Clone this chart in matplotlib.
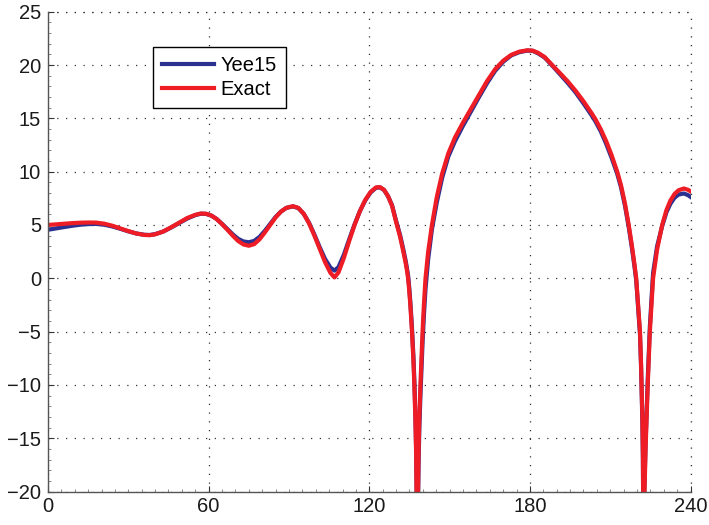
import matplotlib
matplotlib.use("Agg")
import matplotlib.pyplot as plt
from matplotlib.ticker import MultipleLocator

plt.rcParams['font.family'] = ['Liberation Sans', 'DejaVu Sans']

# angle samples (shared by both series)
theta = [0, 3, 6, 9, 12, 15, 18, 21, 24, 27, 30, 33, 36, 38, 40, 43, 46, 49, 52, 55, 57, 59, 61, 63,
         65, 67, 69, 71, 73, 75, 77, 79, 81, 83, 85, 87, 89, 91.5, 93.5, 95.5, 97.5, 99.5, 101.5,
         103.5, 105.5, 107, 108.5, 110.5, 112.5, 114.5, 116.5, 118.5, 120.5, 122.5, 124, 125.5, 127,
         128.5, 130, 131.5, 132.5, 133.5, 134.0, 134.5, 134.9, 135.3, 135.9, 136.5, 136.8, 137.2,
         137.5, 137.75, 137.9, 138.1, 138.4, 138.7, 139.1, 139.5, 139.9, 140.4, 141.0, 142.0, 143.4,
         145.2, 147.2, 149.5, 152, 155, 158, 161, 164, 167, 170, 173, 176, 179, 181, 183, 185.5, 188.3,
         191, 194, 197, 200, 203, 204.5, 206.5, 208.5, 210.5, 212.6, 214, 215.5, 216.9, 218, 219,
         219.7, 220.4, 221.1, 221.5, 221.7, 222.0, 222.2, 222.35, 222.45, 222.6, 223.2, 223.6, 224.0,
         224.4, 224.8, 225.4, 226.0, 227.5, 229.4, 231, 232.5, 234, 235.5, 237.5, 239, 240]

# Exact (red)
exact_y = [5.00, 5.06, 5.12, 5.17, 5.21, 5.23, 5.22, 5.12, 4.93, 4.68, 4.42, 4.20, 4.06, 4.04, 4.12,
           4.38, 4.78, 5.22, 5.65, 5.95, 6.07, 6.05, 5.88, 5.55, 5.08, 4.55, 4.00, 3.50, 3.17, 3.05,
           3.20, 3.65, 4.30, 5.00, 5.70, 6.25, 6.60, 6.76, 6.60, 6.05, 5.15, 4.00, 2.75, 1.50, 0.50,
           0.08, 0.55, 1.90, 3.50, 5.00, 6.30, 7.35, 8.10, 8.52, 8.55, 8.30, 7.70, 6.80, 5.30, 3.90,
           2.75, 1.55, 0.85, 0.00, -1.1, -2.4, -4.8, -7.8, -9.8, -13, -16.5, -22, -30, -22, -16.5,
           -13, -10, -7.5, -5, -2.5, 0, 2.5, 5, 7.6, 9.8, 11.7, 13.2, 14.6, 15.9, 17.2, 18.5, 19.6,
           20.4, 20.95, 21.25, 21.38, 21.35, 21.15, 20.75, 20.0, 19.3, 18.5, 17.6, 16.6, 15.5, 14.9,
           13.95, 12.85, 11.55, 10.0, 8.75, 7.0, 5.0, 3.2, 1.4, 0, -2.5, -5, -8, -10, -13, -16.5,
           -22, -30, -22, -16, -13, -10, -7.5, -5, -2.5, 0, 2.7, 5.0, 6.4, 7.3, 7.9, 8.25, 8.42,
           8.3, 8.15]

# Yee15 (blue)
yee_y = [4.55, 4.68, 4.80, 4.92, 5.02, 5.08, 5.10, 5.02, 4.86, 4.64, 4.40, 4.20, 4.08, 4.06, 4.14,
         4.38, 4.76, 5.18, 5.60, 5.92, 6.05, 6.04, 5.88, 5.56, 5.10, 4.62, 4.12, 3.70, 3.45, 3.38,
         3.50, 3.88, 4.45, 5.10, 5.75, 6.25, 6.60, 6.74, 6.58, 6.05, 5.20, 4.10, 2.90, 1.80, 1.00,
         0.72, 1.05, 2.20, 3.65, 5.05, 6.30, 7.30, 8.05, 8.48, 8.52, 8.28, 7.70, 6.85, 5.40, 4.05,
         2.95, 1.75, 1.05, 0.25, -0.8, -2.1, -4.4, -7.4, -9.4, -12.5, -16, -21, -30, -23, -17.5,
         -14, -11, -8.5, -6, -3.5, -1, 1.8, 4.6, 7.1, 9.4, 11.4, 12.85, 14.3, 15.65, 17.0, 18.3,
         19.45, 20.3, 20.9, 21.2, 21.35, 21.33, 21.1, 20.7, 19.95, 19.2, 18.35, 17.45, 16.4, 15.3,
         14.7, 13.75, 12.6, 11.3, 9.8, 8.55, 6.8, 4.8, 3.0, 1.2, -0.2, -2.7, -5.2, -8.2, -10.3,
         -13.5, -17, -23, -30, -21, -15.5, -12.5, -9.5, -7, -4.5, -2, 0.5, 3.0, 4.9, 6.2, 7.0,
         7.55, 7.85, 7.95, 7.8, 7.63]

x_ticks = [0, 60, 120, 180, 240]
y_ticks = [-20, -15, -10, -5, 0, 5, 10, 15, 20, 25]

fig = plt.figure(figsize=(7.09, 5.25), dpi=100)
ax = fig.add_axes([0.0677, 0.0638, 0.9063, 0.9139])

ax.plot(theta, yee_y, color='#2B3190', lw=3.0, label='Yee15', solid_joinstyle='round')
ax.plot(theta, exact_y, color='#EE1C25', lw=3.0, label='Exact', solid_joinstyle='round')

ax.set_xlim(0, 240)
ax.set_ylim(-20, 25)
ax.set_xticks(x_ticks)
ax.set_yticks(y_ticks)
ax.xaxis.set_minor_locator(MultipleLocator(5))
ax.yaxis.set_minor_locator(MultipleLocator(1))
ax.tick_params(which='major', direction='in', length=4, width=0.8, color='#333333',
               labelsize=14.5, labelcolor='#1a1a1a')
ax.tick_params(axis='x', which='major', pad=4)
ax.tick_params(axis='y', which='major', pad=5)
ax.tick_params(which='minor', direction='in', length=2, width=0.6, color='#777777')
ax.tick_params(top=False, right=False, which='both')

for s in ['top', 'right']:
    ax.spines[s].set_visible(False)
for s in ['left', 'bottom']:
    ax.spines[s].set_color('#555555')
    ax.spines[s].set_linewidth(1.0)

dots = (0, (1, 6))
ax.grid(True, which='major', linestyle=dots, color='#333333', lw=0.9)
ax.axhline(25, linestyle=dots, color='#333333', lw=0.9, clip_on=False)
ax.axvline(240, linestyle=dots, color='#333333', lw=0.9, clip_on=False)

leg = ax.legend(loc='upper left', bbox_to_anchor=(0.163, 0.926), borderaxespad=0,
                fontsize=14.5, fancybox=False, framealpha=1, edgecolor='black',
                handlelength=2.6, handletextpad=0.3, borderpad=0.45, labelspacing=0.25)
leg.get_frame().set_linewidth(1.0)

fig.savefig('out.png', dpi=100)
